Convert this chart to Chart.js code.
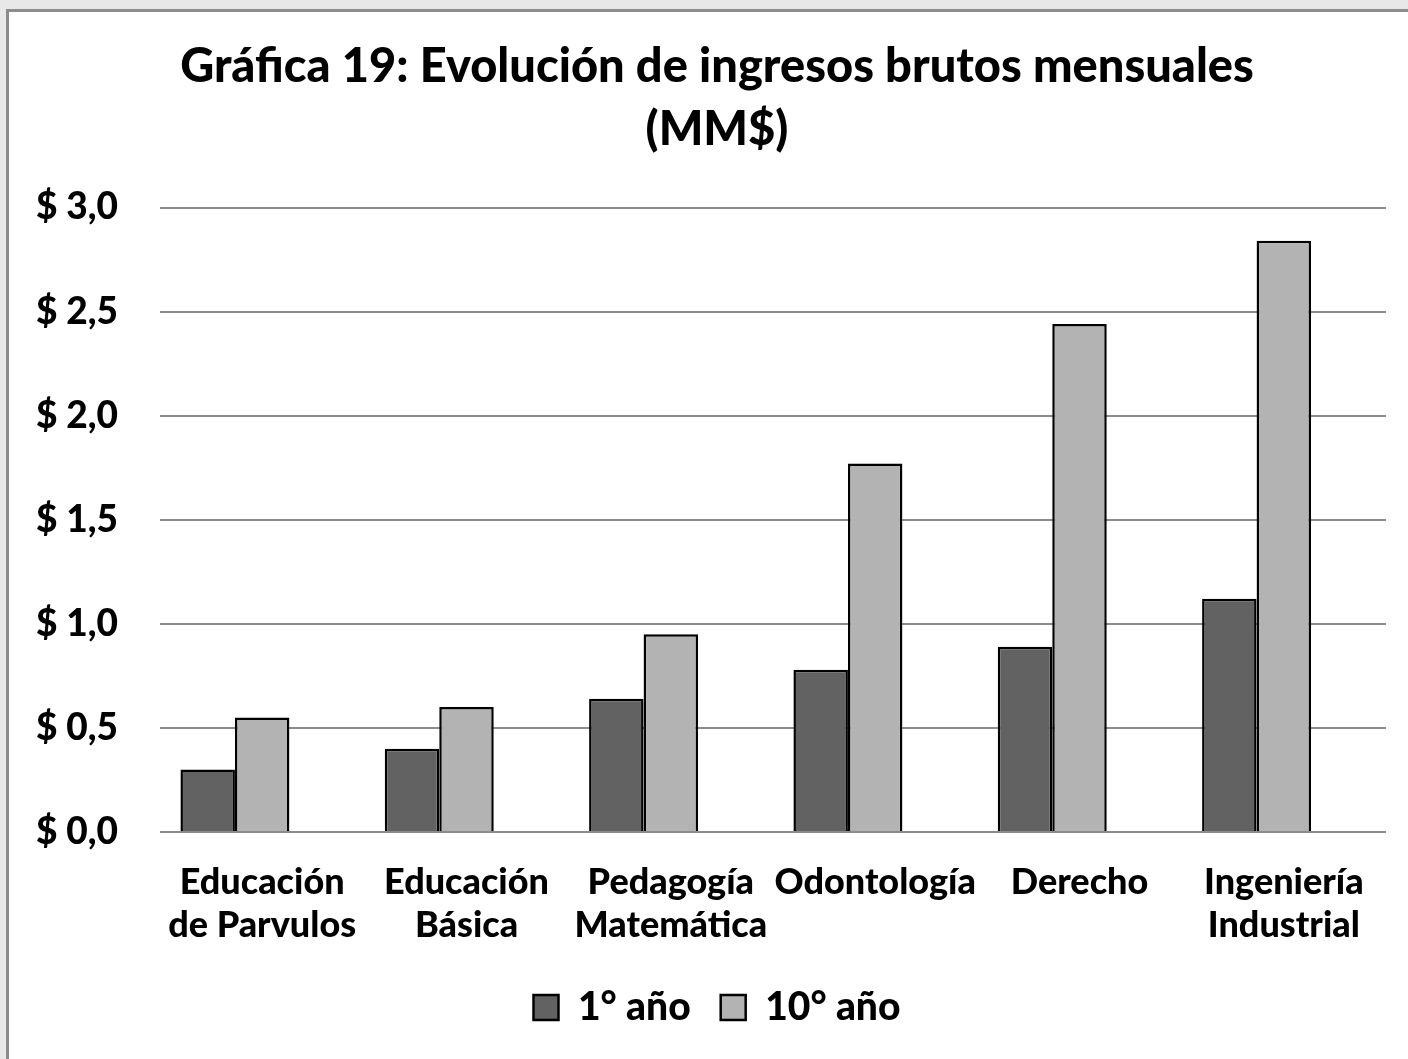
<!DOCTYPE html>
<html>
<head>
<meta charset="utf-8">
<script src="https://cdn.jsdelivr.net/npm/chart.js@4/dist/chart.umd.min.js"></script>
<style>
  html, body { margin: 0; padding: 0; width: 1408px; height: 1059px; overflow: hidden; background: #e8e8e8; }
  #frame { position: absolute; left: 6px; top: 9px; width: 1440px; height: 1100px; border: 3px solid #8c8c8c; background: #ffffff; }
  #wrap { position: absolute; left: 0; top: 0; width: 1408px; height: 1059px; }
</style>
</head>
<body>
<div id="frame"></div>
<div id="wrap"><canvas id="c" width="1408" height="1059"></canvas></div>
<script>
const categories = [
  ["Educación", "de Parvulos"],
  ["Educación", "Básica"],
  ["Pedagogía", "Matemática"],
  ["Odontología"],
  ["Derecho"],
  ["Ingeniería", "Industrial"]
];
const seriesNames = ["1° año", "10° año"];
const primerAnio = [0.30, 0.40, 0.64, 0.78, 0.89, 1.12];
const decimoAnio = [0.55, 0.60, 0.95, 1.77, 2.44, 2.84];
const emptySlot = [null, null, null, null, null, null];
const titleLines = ["Gráfica 19: Evolución de ingresos brutos mensuales", "(MM$)"];

const FONT = "Lato, 'Open Sans', sans-serif";

new Chart(document.getElementById('c'), {
  type: 'bar',
  data: {
    labels: categories,
    datasets: [
      { label: seriesNames[0], data: primerAnio, backgroundColor: '#626262', borderColor: '#000000', borderWidth: 2.5, borderSkipped: 'bottom' },
      { label: seriesNames[1], data: decimoAnio, backgroundColor: '#b3b3b3', borderColor: '#000000', borderWidth: 2.5, borderSkipped: 'bottom' },
      { label: '', data: emptySlot, backgroundColor: 'rgba(0,0,0,0)', borderWidth: 0 }
    ]
  },
  options: {
    responsive: false,
    animation: false,
    layout: { padding: { left: 48, right: 22, top: 0, bottom: 22 } },
    datasets: { bar: { categoryPercentage: 0.8, barPercentage: 1.0 } },
    plugins: {
      title: {
        display: true,
        text: titleLines,
        color: '#000000',
        font: { family: FONT, size: 47, weight: '900', lineHeight: 1.33 },
        padding: { top: 36, bottom: 46.5 }
      },
      legend: {
        position: 'bottom',
        labels: {
          color: '#000000',
          font: { family: FONT, size: 39, weight: '900' },
          boxWidth: 25,
          boxHeight: 25,
          padding: 30,
          filter: (item) => item.datasetIndex < 2
        }
      },
      tooltip: { enabled: false }
    },
    scales: {
      x: {
        grid: { display: false, drawTicks: false },
        border: { display: false },
        ticks: {
          color: '#000000',
          font: { family: FONT, size: 36, weight: '900', lineHeight: 1.22 },
          padding: 28,
          maxRotation: 0,
          autoSkip: false
        },
        afterFit: (scale) => { scale.height = 126; }
      },
      y: {
        min: 0,
        max: 3,
        grid: { color: '#8c8c8c', lineWidth: 2, drawTicks: false },
        border: { display: false },
        ticks: {
          stepSize: 0.5,
          color: '#000000',
          font: { family: FONT, size: 37, weight: '900' },
          padding: 42,
          callback: (v) => '$ ' + Number(v).toFixed(1).replace('.', ',')
        },
        afterFit: (scale) => {
          scale.width = 112;
          scale._computeLabelArea = () => undefined;
        }
      }
    }
  }
});
</script>
</body>
</html>
